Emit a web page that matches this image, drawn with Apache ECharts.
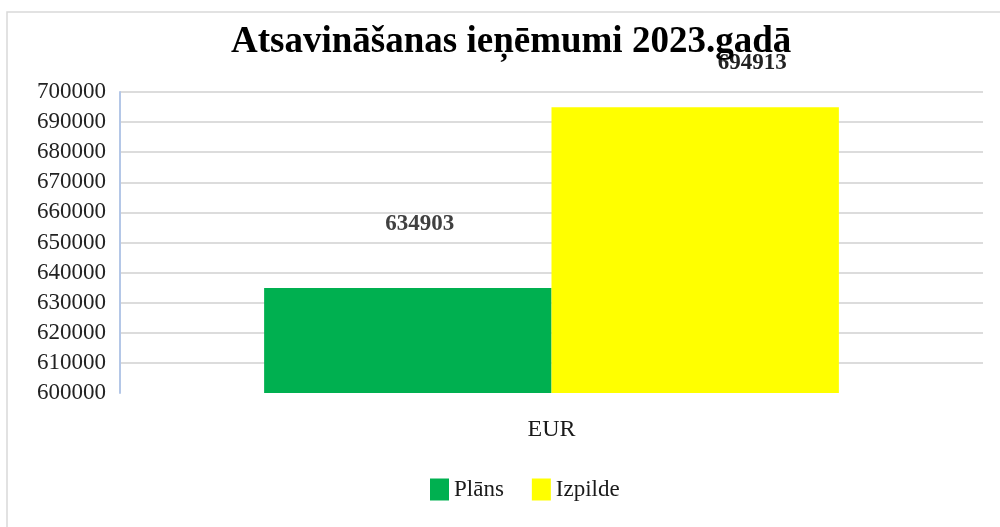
<!DOCTYPE html>
<html>
<head>
<meta charset="utf-8">
<script src="https://cdn.jsdelivr.net/npm/echarts@6/dist/echarts.min.js"></script>
<style>
  html, body { margin: 0; padding: 0; background: #fff; }
  #chart { width: 1000px; height: 527px; }
</style>
</head>
<body>
<div id="chart"></div>
<script>
const categories = ['EUR']
const seriesNames = ['Plāns', 'Izpilde']
const planValues = [634903]
const actualValues = [694913]
const yMin = 600000
const yMax = 700000
const yStep = 10000

const font = '"Liberation Serif", "Times New Roman", serif'
const colors = ['#00B050', '#FFFF00']

const chart = echarts.init(document.getElementById('chart'))
chart.setOption({
  animation: false,
  color: colors,
  title: {
    text: 'Atsavināšanas ieņēmumi 2023.gadā',
    left: 226,
    top: 19,
    textStyle: { fontFamily: font, fontSize: 37, fontWeight: 'bold', color: '#000' }
  },
  graphic: [{
    type: 'polyline',
    shape: { points: [[7, 527], [7, 12], [1000, 12]] },
    style: { stroke: '#d9d9d9', lineWidth: 1.5, fill: null }
  }],
  legend: {
    bottom: 21,
    left: 425,
    itemWidth: 19,
    itemHeight: 22,
    itemGap: 28,
    icon: 'rect',
    textStyle: { fontFamily: font, fontSize: 23, color: '#1a1a1a' },
    data: seriesNames
  },
  grid: { left: 120, right: 17, top: 92, bottom: 134 },
  xAxis: {
    type: 'category',
    data: categories,
    axisLine: { show: false },
    axisTick: { show: false },
    axisLabel: { fontFamily: font, fontSize: 24, color: '#1a1a1a', margin: 25 }
  },
  yAxis: {
    type: 'value',
    min: yMin,
    max: yMax,
    interval: yStep,
    axisLine: { show: true, lineStyle: { color: '#b4c7e7', width: 2 } },
    axisTick: { show: false },
    axisLabel: { fontFamily: font, fontSize: 23, color: '#222', margin: 14, formatter: v => String(v) },
    splitLine: { show: true, showMinLine: false, lineStyle: { color: '#dcdcdc', width: 2 } }
  },
  series: [
    {
      name: seriesNames[0],
      type: 'bar',
      barGap: '0%',
      barCategoryGap: '33.4%',
      data: planValues,
      label: {
        show: true, position: 'top', distance: 52, offset: [12, 0],
        fontFamily: font, fontSize: 23, fontWeight: 'bold', color: '#404040'
      }
    },
    {
      name: seriesNames[1],
      type: 'bar',
      data: actualValues,
      label: {
        show: true, position: 'top', distance: 33, offset: [57, 0],
        fontFamily: font, fontSize: 23, fontWeight: 'bold', color: '#222'
      }
    }
  ]
})
</script>
</body>
</html>
